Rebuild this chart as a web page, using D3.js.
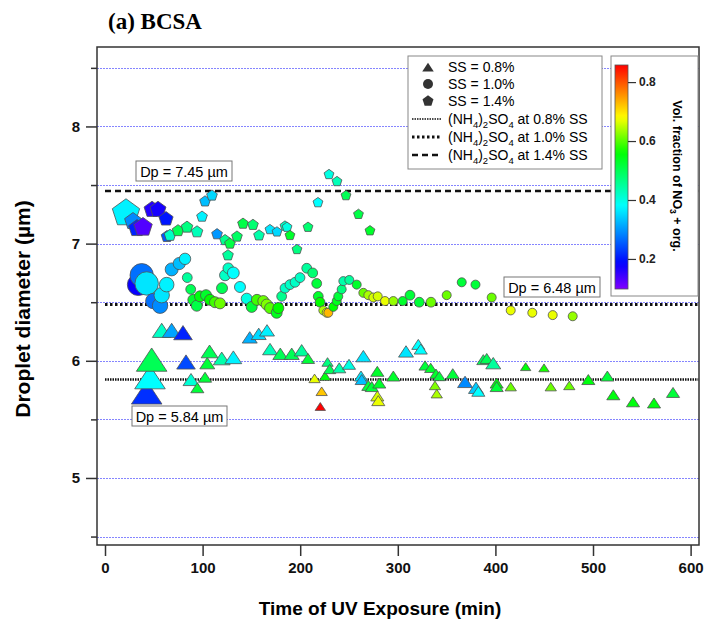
<!DOCTYPE html>
<html>
<head>
  <meta charset="utf-8">
  <title>(a) BCSA</title>
  <script src="https://d3js.org/d3.v7.min.js"></script>
  <style>
    body { margin: 0; background: #fff; }
  </style>
</head>
<body>
<div id="chart"></div>
<script>
// ---- data ----
// SS = 0.8 % (triangles)
var triTime = [42.7, 46.1, 47.8, 58.1, 68.3, 79.9, 83.0, 88.1, 94.6, 102.5, 104.8, 107.1, 119.6, 131.5, 148.3, 157.5, 166.0, 169.1, 179.6, 191.3, 201.5, 208.0, 214.7, 220.6, 222.0, 225.4, 228.0, 230.2, 240.0, 250.0, 262.3, 263.0, 264.7, 269.8, 273.3, 279.0, 279.0, 280.0, 281.0, 295.4, 308.4, 321.0, 323.5, 327.9, 333.7, 338.1, 339.1, 339.9, 342.5, 356.3, 368.9, 380.1, 382.5, 387.6, 391.1, 397.8, 401.3, 401.3, 415.7, 431.0, 449.8, 456.7, 475.7, 495.2, 514.7, 520.8, 541.0, 562.5, 582.0];
var triDp   = [5.73, 5.86, 6.01, 6.26, 6.26, 6.24, 5.99, 5.84, 5.77, 5.86, 5.98, 6.08, 6.02, 6.03, 6.20, 6.23, 6.26, 6.10, 6.06, 6.06, 6.09, 6.02, 5.85, 5.61, 5.74, 5.87, 5.99, 5.93, 5.94, 5.97, 5.87, 5.84, 6.04, 5.79, 5.78, 5.91, 5.70, 5.66, 5.81, 5.87, 6.08, 6.14, 6.10, 5.96, 5.94, 5.79, 5.89, 5.72, 5.87, 5.89, 5.82, 5.77, 5.74, 6.01, 6.02, 5.98, 5.81, 5.78, 5.78, 5.95, 5.94, 5.78, 5.79, 5.84, 5.87, 5.71, 5.65, 5.64, 5.73];
var triFrac = [0.22, 0.38, 0.50, 0.42, 0.31, 0.21, 0.24, 0.41, 0.52, 0.52, 0.52, 0.50, 0.44, 0.37, 0.32, 0.35, 0.37, 0.43, 0.50, 0.50, 0.45, 0.52, 0.67, 0.86, 0.72, 0.55, 0.47, 0.50, 0.44, 0.40, 0.36, 0.33, 0.36, 0.52, 0.52, 0.53, 0.66, 0.67, 0.53, 0.53, 0.36, 0.38, 0.38, 0.52, 0.53, 0.62, 0.53, 0.64, 0.52, 0.52, 0.29, 0.34, 0.38, 0.50, 0.50, 0.45, 0.55, 0.52, 0.61, 0.55, 0.57, 0.61, 0.61, 0.55, 0.52, 0.55, 0.55, 0.55, 0.52];
var triSize = [3.2, 3.2, 3.2, 1.9, 1.9, 1.9, 1.9, 1.6, 1.3, 1.3, 1.5, 1.7, 1.7, 1.7, 1.5, 1.5, 1.5, 1.5, 1.5, 1.5, 1.5, 1.3, 1.1, 1.0, 1.1, 1.1, 1.1, 1.2, 1.3, 1.3, 1.3, 1.3, 1.5, 1.3, 1.3, 1.3, 1.3, 1.3, 1.3, 1.3, 1.5, 1.3, 1.3, 1.2, 1.2, 1.1, 1.2, 1.1, 1.2, 1.3, 1.5, 1.5, 1.3, 1.3, 1.3, 1.5, 1.3, 1.3, 1.1, 1.0, 1.0, 1.1, 1.1, 1.3, 1.3, 1.3, 1.3, 1.3, 1.3];

// SS = 1.0 % (circles)
var cirTime = [34.1, 37.6, 42.7, 49.5, 56.4, 58.1, 63.2, 68.3, 76.1, 82.0, 84.3, 87.8, 90.5, 94.0, 97.3, 103.5, 107.6, 112.7, 117.8, 119.9, 123.0, 126.3, 131.5, 138.3, 145.2, 150.3, 155.7, 162.2, 165.7, 169.1, 175.9, 177.6, 181.0, 184.4, 189.5, 194.7, 199.8, 206.7, 212.8, 216.9, 218.5, 220.3, 223.7, 227.1, 228.8, 233.9, 237.4, 239.0, 242.5, 244.2, 250.3, 257.9, 264.7, 269.8, 274.9, 279.4, 286.9, 295.4, 305.0, 312.5, 322.0, 334.0, 350.1, 365.5, 379.6, 396.2, 415.7, 437.8, 458.7, 479.2];
var cirDp   = [6.65, 6.73, 6.66, 6.51, 6.47, 6.56, 6.65, 6.78, 6.83, 6.87, 6.71, 6.61, 6.52, 6.47, 6.55, 6.56, 6.52, 6.50, 6.49, 6.62, 6.73, 6.79, 6.75, 6.63, 6.53, 6.46, 6.52, 6.51, 6.48, 6.45, 6.41, 6.45, 6.55, 6.62, 6.65, 6.67, 6.71, 6.79, 6.75, 6.66, 6.55, 6.50, 6.43, 6.41, 6.41, 6.46, 6.51, 6.55, 6.61, 6.68, 6.69, 6.65, 6.58, 6.56, 6.54, 6.55, 6.51, 6.51, 6.51, 6.56, 6.50, 6.50, 6.56, 6.67, 6.65, 6.54, 6.43, 6.41, 6.39, 6.38];
var cirFrac = [0.18, 0.27, 0.36, 0.27, 0.29, 0.36, 0.37, 0.32, 0.33, 0.37, 0.45, 0.50, 0.53, 0.51, 0.55, 0.53, 0.56, 0.59, 0.61, 0.50, 0.42, 0.42, 0.38, 0.38, 0.40, 0.52, 0.59, 0.61, 0.62, 0.60, 0.54, 0.56, 0.46, 0.42, 0.42, 0.42, 0.42, 0.45, 0.48, 0.52, 0.53, 0.56, 0.64, 0.67, 0.73, 0.56, 0.54, 0.52, 0.47, 0.44, 0.45, 0.53, 0.61, 0.64, 0.66, 0.66, 0.67, 0.63, 0.53, 0.52, 0.52, 0.61, 0.61, 0.52, 0.52, 0.61, 0.67, 0.67, 0.67, 0.63];
var cirSize = [2.6, 2.8, 2.8, 1.8, 1.8, 1.8, 1.7, 1.5, 1.4, 1.3, 1.1, 1.1, 1.25, 1.25, 1.25, 1.25, 1.25, 1.25, 1.25, 1.25, 1.25, 1.2, 1.35, 1.25, 1.25, 1.25, 1.25, 1.25, 1.25, 1.25, 1.25, 1.25, 1.1, 1.1, 1.1, 1.1, 1.1, 1.1, 1.1, 1.1, 1.1, 1.1, 1, 1, 1, 1, 1, 1, 1, 1, 1, 1, 1, 1, 1, 1, 1, 1, 1, 1.1, 1.1, 1.1, 1, 1, 1, 1, 1, 1, 1, 1];

// SS = 1.4 % (pentagons)
var penTime = [21.5, 28.7, 32.8, 38.9, 48.2, 54.3, 62.5, 63.5, 66.6, 74.8, 84.0, 94.3, 99.4, 102.5, 109.6, 114.8, 123.0, 126.0, 128.0, 135.2, 141.4, 151.6, 157.8, 169.0, 176.2, 184.4, 186.5, 189.5, 196.7, 208.0, 218.2, 229.5, 237.7, 246.9, 259.7, 271.5];
var penDp   = [7.26, 7.19, 7.13, 7.14, 7.29, 7.29, 7.21, 7.06, 7.07, 7.11, 7.14, 7.10, 7.23, 7.36, 7.41, 7.08, 7.03, 6.90, 7.00, 7.06, 7.17, 7.16, 7.07, 7.12, 7.10, 7.15, 7.14, 7.07, 6.95, 7.14, 7.35, 7.59, 7.53, 7.41, 7.25, 7.11];
var penFrac = [0.37, 0.29, 0.21, 0.13, 0.16, 0.17, 0.20, 0.25, 0.42, 0.50, 0.47, 0.43, 0.37, 0.33, 0.35, 0.30, 0.46, 0.45, 0.51, 0.49, 0.51, 0.48, 0.44, 0.36, 0.35, 0.42, 0.40, 0.53, 0.47, 0.48, 0.38, 0.40, 0.43, 0.50, 0.51, 0.53];
var penSize = [3.0, 1.8, 1.8, 2.0, 1.7, 1.7, 1.5, 1.2, 1.2, 1.2, 1.2, 1.2, 1.1, 1.1, 1.1, 1.1, 1.1, 1.1, 1.1, 1.1, 1.1, 1.1, 1.1, 1, 1, 1, 1, 1, 1, 1, 1, 1, 1, 1, 1, 1];

// (NH4)2SO4 reference diameters
var refSS = ["0.8%", "1.0%", "1.4%"];
var refDp = [5.84, 6.48, 7.45];

var xTicks = [0, 100, 200, 300, 400, 500, 600];
var yTicks = [5, 6, 7, 8];
var yMinor = [4.5, 5.5, 6.5, 7.5, 8.5];
var cbTicks = [0.2, 0.4, 0.6, 0.8];

// ---- layout ----
var width = 707, height = 625;
var plot = {left: 97, right: 699, top: 47, bottom: 545};
var font = "'Liberation Sans', Arial, sans-serif";

var svg = d3.select("#chart").append("svg")
    .attr("width", width)
    .attr("height", height);

var x = d3.scaleLinear().domain([-8.2, 608.6]).range([plot.left, plot.right]);
var y = d3.scaleLinear().domain([4.428, 8.678]).range([plot.bottom, plot.top]);
var r = d3.scaleLinear().domain([1, 3]).range([4.5, 12.5]);

// rainbow colour table, violet (low) -> red (high), hue stops matched to the bar
var cbDomain = [0.098, 0.858];
var hue = d3.scaleLinear()
  .domain([0.098, 0.2, 0.38, 0.56, 0.68, 0.858])
  .range([270, 235, 180, 120, 60, 0])
  .clamp(true);
function fracColor(v) {
  return d3.hsl(hue(v), 1, 0.5).toString();
}

// marker paths
function trianglePath(s) {
  var w = s * 1.15, h = s * 1.75;
  return "M0," + (-h / 2) + "L" + w + "," + (h / 2) + "L" + (-w) + "," + (h / 2) + "Z";
}
function pentagonPath(s) {
  var R = s * 1.15, p = [];
  for (var k = 0; k < 5; k++) {
    var a = (-90 + k * 72) * Math.PI / 180;
    p.push([R * Math.cos(a), R * Math.sin(a)]);
  }
  return "M" + p.join("L") + "Z";
}
function circlePath(s) {
  return "M" + s + ",0A" + s + "," + s + " 0 1,1 " + (-s) + ",0A" + s + "," + s + " 0 1,1 " + s + ",0Z";
}

// grid lines
svg.append("g").selectAll("line")
  .data(yMinor.concat(yTicks))
  .enter().append("line")
  .attr("x1", plot.left).attr("x2", plot.right)
  .attr("y1", function(d){ return Math.round(y(d)) + 0.5; })
  .attr("y2", function(d){ return Math.round(y(d)) + 0.5; })
  .attr("stroke", "#8585ff")
  .attr("stroke-width", 1)
  .attr("shape-rendering", "crispEdges")
  .attr("stroke-dasharray", "2,1");

// reference lines
var refDash = ["1.5,1", "2.5,2.5", "6,4"];
var refWidth = [2.5, 3, 2.5];
svg.append("g").selectAll("line")
  .data(refDp)
  .enter().append("line")
  .attr("x1", x(0)).attr("x2", x(608))
  .attr("y1", function(d){ return y(d); })
  .attr("y2", function(d){ return y(d); })
  .attr("stroke", "#111")
  .attr("stroke-width", function(d, i){ return refWidth[i]; })
  .attr("stroke-dasharray", function(d, i){ return refDash[i]; });

// points
function drawSeries(times, dps, fracs, sizes, shape) {
  var rows = times.map(function(t, i){ return {t: t, dp: dps[i], f: fracs[i], s: sizes[i]}; });
  svg.append("g").selectAll("path")
    .data(rows)
    .enter().append("path")
    .attr("transform", function(d){ return "translate(" + x(d.t) + "," + y(d.dp) + ")"; })
    .attr("d", function(d){ return shape(r(d.s)); })
    .attr("fill", function(d){ return fracColor(d.f); })
    .attr("stroke", "#505050")
    .attr("stroke-width", 0.8);
}
drawSeries(penTime, penDp, penFrac, penSize, pentagonPath);
drawSeries(cirTime, cirDp, cirFrac, cirSize, circlePath);
drawSeries(triTime, triDp, triFrac, triSize, trianglePath);

// frame
svg.append("rect")
  .attr("x", plot.left).attr("y", plot.top)
  .attr("width", plot.right - plot.left)
  .attr("height", plot.bottom - plot.top)
  .attr("fill", "none")
  .attr("stroke", "#333")
  .attr("stroke-width", 1.5);

// axes
svg.append("g")
  .attr("transform", "translate(" + plot.left + ",0)")
  .call(d3.axisLeft(y).tickValues(yTicks).tickSize(11).tickPadding(6).tickFormat(d3.format("d")));
svg.append("g")
  .attr("transform", "translate(" + plot.left + ",0)")
  .call(d3.axisLeft(y).tickValues(yMinor).tickSize(6).tickFormat(""));
svg.append("g")
  .attr("transform", "translate(0," + plot.bottom + ")")
  .call(d3.axisBottom(x).tickValues(xTicks).tickSize(11).tickPadding(6));

svg.selectAll(".domain").remove();
svg.selectAll(".tick line").attr("stroke", "#333").attr("stroke-width", 1.5);
svg.selectAll(".tick text")
  .attr("font-family", font)
  .attr("font-weight", "bold")
  .attr("font-size", 15)
  .attr("fill", "#111");

// titles
svg.append("text")
  .attr("x", 108).attr("y", 29)
  .attr("font-family", "'Liberation Serif', 'Times New Roman', serif")
  .attr("font-weight", "bold")
  .attr("font-size", 23)
  .text("(a) BCSA");

svg.append("text")
  .attr("transform", "translate(30,309) rotate(-90)")
  .attr("text-anchor", "middle")
  .attr("font-family", font)
  .attr("font-weight", "bold")
  .attr("font-size", 21)
  .text("Droplet diameter (\u00b5m)");

svg.append("text")
  .attr("x", 380).attr("y", 615)
  .attr("text-anchor", "middle")
  .attr("font-family", font)
  .attr("font-weight", "bold")
  .attr("font-size", 19)
  .text("Time of UV Exposure (min)");

// Dp annotation boxes
var dpBoxes = [
  {x: 136, y: 161, w: 96, label: "Dp = " + refDp[2].toFixed(2) + " \u00b5m"},
  {x: 504, y: 277, w: 96, label: "Dp = " + refDp[1].toFixed(2) + " \u00b5m"},
  {x: 132, y: 406, w: 95, label: "Dp = " + refDp[0].toFixed(2) + " \u00b5m"}
];
var boxes = svg.append("g").selectAll("g")
  .data(dpBoxes)
  .enter().append("g");
boxes.append("rect")
  .attr("x", function(d){ return d.x; })
  .attr("y", function(d){ return d.y; })
  .attr("width", function(d){ return d.w; })
  .attr("height", 20)
  .attr("fill", "#fff")
  .attr("stroke", "#777")
  .attr("stroke-width", 1);
boxes.append("text")
  .attr("x", function(d){ return d.x + d.w / 2; })
  .attr("y", function(d){ return d.y + 15.5; })
  .attr("text-anchor", "middle")
  .attr("font-family", font)
  .attr("font-size", 14.5)
  .text(function(d){ return d.label; });

// legend
var leg = svg.append("g");
leg.append("rect")
  .attr("x", 408).attr("y", 56).attr("width", 194).attr("height", 113)
  .attr("fill", "#fff").attr("stroke", "#888").attr("stroke-width", 1);

var legMarkers = [trianglePath, circlePath, pentagonPath];
var legSS = ["0.8%", "1.0%", "1.4%"];
legMarkers.forEach(function(shape, i) {
  var ly = 67 + i * 17;
  leg.append("path")
    .attr("transform", "translate(428," + ly + ")")
    .attr("d", shape(5))
    .attr("fill", "#333");
  leg.append("text")
    .attr("x", 448).attr("y", ly + 5)
    .attr("font-family", font).attr("font-size", 14)
    .text("SS = " + legSS[i]);
});

refSS.forEach(function(ss, i) {
  var ly = 119 + i * 18;
  leg.append("line")
    .attr("x1", 412).attr("x2", 441)
    .attr("y1", ly).attr("y2", ly)
    .attr("stroke", "#111")
    .attr("stroke-width", i == 0 ? 1.5 : refWidth[i])
    .attr("stroke-dasharray", refDash[i]);
  var t = leg.append("text")
    .attr("x", 448).attr("y", ly + 5)
    .attr("font-family", font).attr("font-size", 14);
  t.append("tspan").text("(NH");
  t.append("tspan").attr("font-size", 9.5).attr("dy", 4).text("4");
  t.append("tspan").attr("dy", -4).text(")");
  t.append("tspan").attr("font-size", 9.5).attr("dy", 4).text("2");
  t.append("tspan").attr("dy", -4).text("SO");
  t.append("tspan").attr("font-size", 9.5).attr("dy", 4).text("4");
  t.append("tspan").attr("dy", -4).text(" at " + ss + " SS");
});

// colour bar
var cb = svg.append("g");
cb.append("rect")
  .attr("x", 611).attr("y", 56).attr("width", 87).attr("height", 240)
  .attr("fill", "#fff").attr("stroke", "#888").attr("stroke-width", 1);

var cbY = d3.scaleLinear().domain(cbDomain).range([289, 65]);
var grad = svg.append("defs").append("linearGradient")
  .attr("id", "rainbow")
  .attr("x1", 0).attr("y1", 1).attr("x2", 0).attr("y2", 0);
d3.range(0, 1.0001, 0.025).forEach(function(p) {
  grad.append("stop")
    .attr("offset", p)
    .attr("stop-color", fracColor(cbDomain[0] + p * (cbDomain[1] - cbDomain[0])));
});
cb.append("rect")
  .attr("x", 615).attr("y", 65).attr("width", 13).attr("height", 224)
  .attr("fill", "url(#rainbow)")
  .attr("stroke", "#555").attr("stroke-width", 0.8);

var cbAxis = cb.append("g")
  .attr("transform", "translate(628,0)")
  .call(d3.axisRight(cbY).tickValues(cbTicks).tickSize(8).tickPadding(3).tickFormat(d3.format(".1f")));
cbAxis.select(".domain").remove();
cbAxis.selectAll(".tick line").attr("stroke", "#333").attr("stroke-width", 1.2);
cbAxis.selectAll(".tick text")
  .attr("font-family", font)
  .attr("font-weight", "bold")
  .attr("font-size", 12)
  .attr("fill", "#222");

var cbLabel = cb.append("text")
  .attr("transform", "translate(673,176) rotate(90)")
  .attr("text-anchor", "middle")
  .attr("font-family", font)
  .attr("font-weight", "bold")
  .attr("font-size", 12.5);
cbLabel.append("tspan").text("Vol. fraction of NO");
cbLabel.append("tspan").attr("font-size", 8.5).attr("dy", 3).text("3");
cbLabel.append("tspan").attr("dy", -3).text(" + org.");
</script>
</body>
</html>
